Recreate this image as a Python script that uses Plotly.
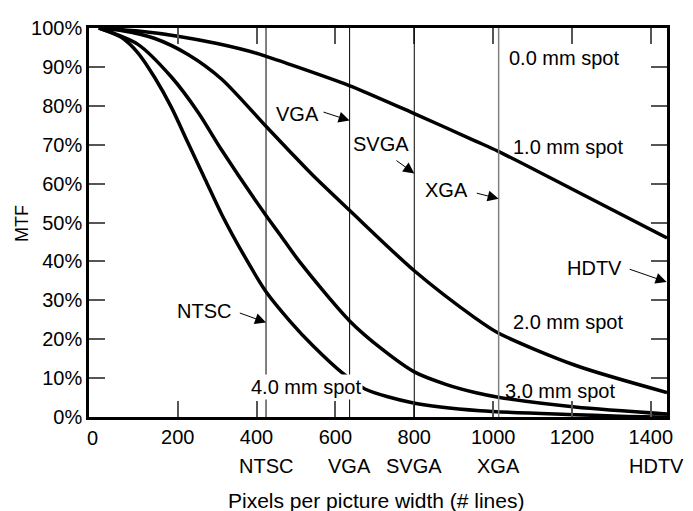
import plotly.graph_objects as go

# ---------------- data ----------------
spot_1mm_x = [0, 100, 200, 300, 400, 424, 480, 635, 800, 954, 1013, 1200, 1441]
spot_1mm_y = [100, 99.2, 97.9, 96.0, 93.5, 92.7, 90.8, 85.2, 78.0, 71.0, 68.3, 58.6, 46.0]

spot_2mm_x = [0, 60, 142, 226, 311, 425, 485, 544, 635, 800, 954, 1013, 1208, 1441]
spot_2mm_y = [100, 99.3, 97.3, 93.2, 86.9, 74.6, 68.2, 62.0, 53.2, 37.6, 25.5, 21.6, 13.3, 6.3]

spot_3mm_x = [0, 99, 184, 252, 311, 424, 460, 510, 636, 720, 800, 880, 954, 1013, 1208, 1441]
spot_3mm_y = [100, 95.8, 87.4, 78.3, 68.7, 51.8, 46.8, 39.8, 24.7, 17.3, 11.6, 8.4, 6.3, 5.1, 2.6, 0.8]

spot_4mm_x = [0, 57, 100, 142, 184, 226, 270, 312, 370, 424, 485, 543, 619, 675, 798, 967, 1208, 1322, 1441]
spot_4mm_y = [100, 97.6, 93.5, 87.2, 79.6, 70.5, 61.0, 52.0, 41.2, 32.2, 24.6, 18.3, 11.2, 7.2, 3.6, 1.6, 0.6, 0.2, 0.0]

standards = ["NTSC", "VGA", "SVGA", "XGA", "HDTV"]
standard_px = [424, 636, 800, 1014, 1440]

x_ticks = [200, 400, 600, 800, 1000, 1200, 1400]
y_ticks = [0, 10, 20, 30, 40, 50, 60, 70, 80, 90, 100]
y_tick_text = [f"{v}%" for v in y_ticks]

spot_labels = ["0.0 mm spot", "1.0 mm spot", "2.0 mm spot", "3.0 mm spot", "4.0 mm spot"]

# ---------------- figure ----------------
FONT = "Liberation Sans, Arial, Helvetica, sans-serif"
FS = 20
fig = go.Figure()

curves = [(spot_1mm_x, spot_1mm_y), (spot_2mm_x, spot_2mm_y),
          (spot_3mm_x, spot_3mm_y), (spot_4mm_x, spot_4mm_y)]
for cx, cy in curves:
    fig.add_trace(go.Scatter(x=cx, y=cy, mode="lines",
                             line=dict(color="black", width=3.5, shape="spline", smoothing=0.8),
                             showlegend=False, hoverinfo="skip"))

# vertical lines for display standards (HDTV is the right border)
line_colors = ["black", "black", "black", "#808080"]
line_widths = [1, 1, 1, 1.5]
for i in range(4):
    fig.add_shape(type="line", xref="x", yref="y", x0=standard_px[i], x1=standard_px[i],
                  y0=0, y1=100, line=dict(color=line_colors[i], width=line_widths[i]), layer="above")

annotations = []

# spot labels
spot_pos = [(1180, 92.2), (1190, 69.3), (1189, 24.3), (1169, 6.8), (525, 7.8)]
for i, (lab, (ax_, ay_)) in enumerate(zip(spot_labels, spot_pos)):
    a = dict(x=ax_, y=ay_, xref="x", yref="y", text=lab, showarrow=False,
             font=dict(family=FONT, size=FS, color="black"), xanchor="center", yanchor="middle")
    if i == 4:
        a.update(bgcolor="white", borderpad=1)
    annotations.append(a)

# standard labels with arrows
label_pos = [(266, 27.2), (504, 78.0), (716, 70.3), (881, 58.4), (1257, 38.4)]
arrow_tip_y = [24.3, 76.2, 62.6, 56.1, 34.7]
arrow_off = [(-27.7, -10), (-27.6, -9), (-19.3, -14), (-23.3, -6), (-38.4, -13.3)]
row2_shift = [0, 0, 0, 0, -10]
for i, name in enumerate(standards):
    annotations.append(dict(x=label_pos[i][0], y=label_pos[i][1], xref="x", yref="y", text=name,
                            showarrow=False, font=dict(family=FONT, size=FS, color="black"),
                            xanchor="center", yanchor="middle"))
    annotations.append(dict(x=standard_px[i], y=arrow_tip_y[i], xref="x", yref="y", text="",
                            showarrow=True, ax=arrow_off[i][0], ay=arrow_off[i][1],
                            axref="pixel", ayref="pixel", arrowhead=2, arrowsize=2.2,
                            arrowwidth=1, arrowcolor="black", standoff=0, startstandoff=0))
    # second-row axis labels
    annotations.append(dict(x=standard_px[i], y=0, xref="x", yref="paper", text=name,
                            showarrow=False, yshift=-48.5, xshift=row2_shift[i],
                            xanchor="center", yanchor="middle",
                            font=dict(family=FONT, size=FS, color="black")))

# "0" tick label
annotations.append(dict(x=-15, y=0, xref="x", yref="paper", text="0", showarrow=False,
                        yshift=-21, xanchor="center", yanchor="middle",
                        font=dict(family=FONT, size=FS, color="black")))

# axis titles
annotations.append(dict(x=0.5, y=0, xref="paper", yref="paper",
                        text="Pixels per picture width (# lines)", showarrow=False,
                        xshift=-2.5, yshift=-83.5, xanchor="center", yanchor="middle",
                        font=dict(family=FONT, size=21, color="black")))
annotations.append(dict(x=0, y=49.75, xref="paper", yref="y", text="MTF", showarrow=False,
                        xshift=-66.5, textangle=-90, xanchor="center", yanchor="middle",
                        font=dict(family=FONT, size=18, color="black")))

# page body has an 8px default margin: shrink figure so the plot lands where the reference has it
fig.update_layout(
    width=685, height=503,
    margin=dict(l=81, r=26, t=9, b=94),
    paper_bgcolor="white", plot_bgcolor="white",
    showlegend=False,
    annotations=annotations,
    font=dict(family=FONT, size=FS, color="black"),
)
fig.update_xaxes(range=[-25, 1441], tickvals=x_ticks, ticks="inside", ticklen=16,
                 tickwidth=1.5, tickcolor="#555", showline=True, linecolor="black",
                 linewidth=2.5, mirror="ticks", showgrid=False, zeroline=False,
                 tickfont=dict(family=FONT, size=FS, color="black"))
fig.update_yaxes(range=[0, 100], tickvals=y_ticks, ticktext=y_tick_text, ticks="inside",
                 ticklen=16, tickwidth=1.5, tickcolor="#555", showline=True, linecolor="black",
                 linewidth=2.5, mirror="ticks", showgrid=False, zeroline=False,
                 tickfont=dict(family=FONT, size=FS, color="black"))

fig.write_html("out.html")
